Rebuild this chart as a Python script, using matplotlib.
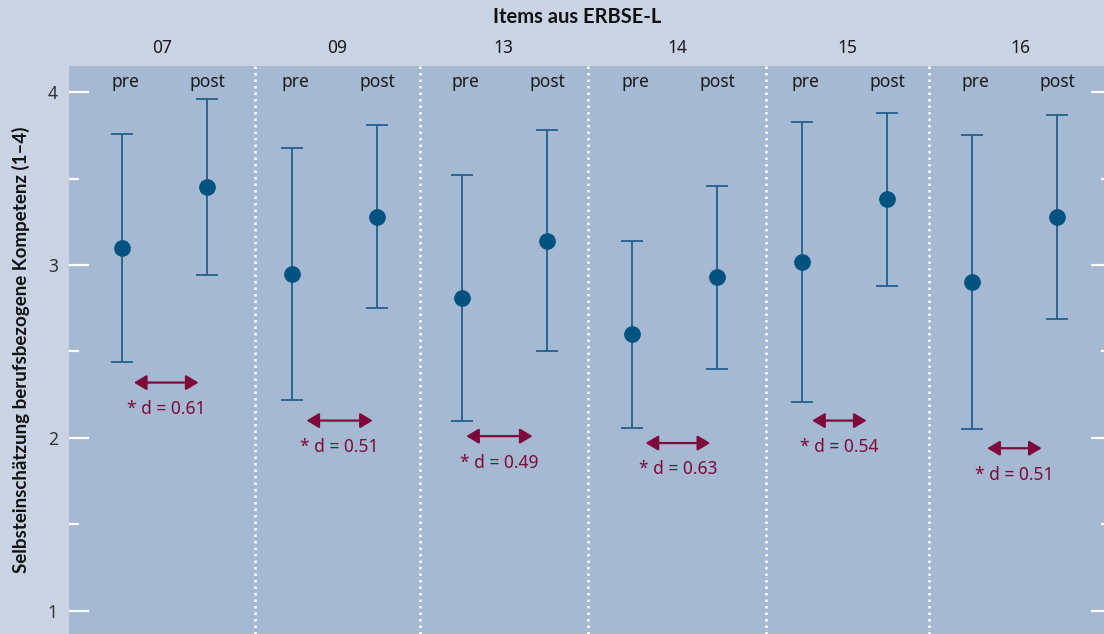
import numpy as np
import matplotlib.pyplot as plt
import matplotlib.transforms as mtransforms

plt.rcParams['font.family'] = ['Noto Sans', 'DejaVu Sans']

# Items and pre/post values (mean +/- sd)
items = ['07', '09', '13', '14', '15', '16']
pre_mean = [3.10, 2.95, 2.81, 2.60, 3.02, 2.90]
pre_sd = [0.66, 0.73, 0.71, 0.54, 0.81, 0.85]
post_mean = [3.45, 3.28, 3.14, 2.93, 3.38, 3.28]
post_sd = [0.51, 0.53, 0.64, 0.53, 0.50, 0.59]

# effect sizes and where their arrows sit
d_labels = ['* d = 0.61', '* d = 0.51', '* d = 0.49', '* d = 0.63', '* d = 0.54', '* d = 0.51']
d_y = [2.32, 2.10, 2.01, 1.97, 2.10, 1.94]
d_shift = [0.01, 0.03, -0.03, 0.02, -0.03, 0.0]
d_width = [0.38, 0.39, 0.39, 0.38, 0.32, 0.32]

outer_bg = '#c9d3e4'
inner_bg = '#a6b9d2'
dot_col = '#005280'
bar_col = '#21608e'
red = '#7d0a3b'
bold_font = ['Lato', 'DejaVu Sans']

fig = plt.figure(figsize=(11.04, 6.34), dpi=100, facecolor=outer_bg)
ax = fig.add_axes([69 / 1104, 0, 1042 / 1104, 568 / 634])
ax.set_facecolor(inner_bg)

x = np.arange(len(items))
ax.errorbar(x - 0.25, pre_mean, yerr=pre_sd, fmt='o', color=dot_col, ecolor=bar_col,
            markersize=11, elinewidth=1.3, capsize=8, capthick=1.3, zorder=3)
ax.errorbar(x + 0.25, post_mean, yerr=post_sd, fmt='o', color=dot_col, ecolor=bar_col,
            markersize=11, elinewidth=1.3, capsize=8, capthick=1.3, zorder=3)

xmin, xmax = -0.562, 5.568
ax.set_xlim(xmin, xmax)
ax.set_ylim(0.865, 4.152)

# panel separators
seps = [0.53, 1.50, 2.49, 3.54, 4.50]
for s in seps:
    ax.axvline(s, color='white', linestyle=(0, (1, 1.6)), linewidth=1.8, zorder=1)

trans = mtransforms.blended_transform_factory(ax.transData, ax.transAxes)
edges = [xmin] + seps + [xmax]
for i, name in enumerate(items):
    cx = (edges[i] + edges[i + 1]) / 2
    ax.text(cx, 1.032, name, transform=trans, ha='center', va='center',
            fontsize=12.5, color='#1a1a1a')
    ax.text(i - 0.23, 0.972, 'pre', transform=trans, ha='center', va='center',
            fontsize=12.5, color='#1a1a1a')
    ax.text(i + 0.25, 0.972, 'post', transform=trans, ha='center', va='center',
            fontsize=12.5, color='#1a1a1a')

# effect size arrows
for i in range(len(items)):
    c = i + d_shift[i]
    w = d_width[i] / 2
    ax.annotate('', xy=(c - w, d_y[i]), xytext=(c + w, d_y[i]),
                arrowprops=dict(arrowstyle='<|-|>,head_length=0.75,head_width=0.45',
                                color=red, lw=1.6, shrinkA=0, shrinkB=0))
    ax.annotate(d_labels[i], xy=(c, d_y[i]), xytext=(0, -19), textcoords='offset points',
                ha='center', va='center', fontsize=12.5, color=red)

ax.set_xticks([])
ax.set_yticks([1, 2, 3, 4])
ax.set_yticks([1.5, 2.5, 3.5], minor=True)
ax.tick_params(axis='y', which='both', direction='in', color='white', width=1.6,
               left=True, right=True, labelsize=12.5, labelcolor='#333333', pad=8)
ax.tick_params(axis='y', which='major', length=14.5)
ax.tick_params(axis='y', which='minor', length=7.2)
for sp in ax.spines.values():
    sp.set_visible(False)

ax.set_ylabel('Selbsteinschätzung berufsbezogene Kompetenz (1–4)', fontsize=13.5,
              fontweight='bold', family=bold_font, color='#111111', labelpad=13)
fig.text(0.523, 0.973, 'Items aus ERBSE-L', ha='center', va='center', fontsize=14.5,
         fontweight='bold', family=bold_font, color='#111111')

fig.savefig('out.png', dpi=100, facecolor=outer_bg)
